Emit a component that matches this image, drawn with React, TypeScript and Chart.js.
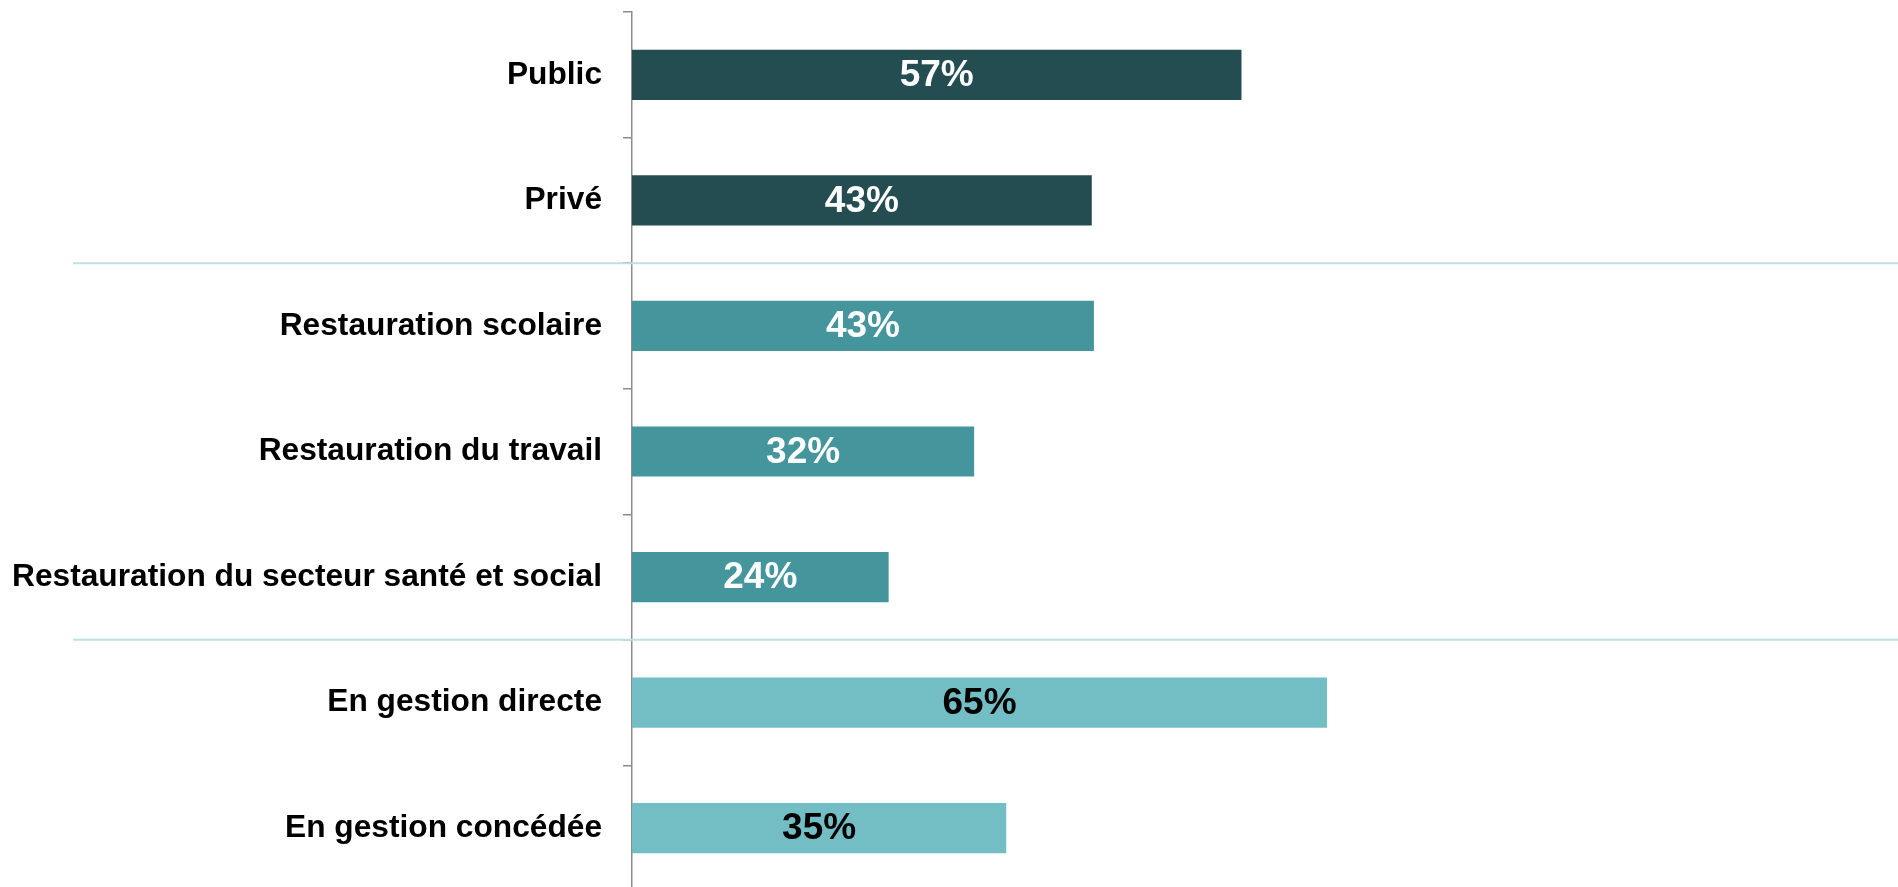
import React, { useEffect, useRef } from "react";
import { Chart, registerables } from "chart.js";

Chart.register(...registerables);

const categories = [
  "Public",
  "Privé",
  "Restauration scolaire",
  "Restauration du travail",
  "Restauration du secteur santé et social",
  "En gestion directe",
  "En gestion concédée",
];
const values = [57, 43, 43.2, 32, 24, 65, 35];
const valueLabels = ["57%", "43%", "43%", "32%", "24%", "65%", "35%"];
const barColors = ["#234d51", "#234d51", "#45969c", "#45969c", "#45969c", "#72bec4", "#72bec4"];
const labelColors = ["#ffffff", "#ffffff", "#ffffff", "#ffffff", "#ffffff", "#000000", "#000000"];
const separatorsAfter = [1, 4];

const FONT = "'Liberation Sans', Arial, sans-serif";

const labelPlugin = {
  id: "barLabels",
  afterDatasetsDraw(chart: any) {
    const ctx = chart.ctx;
    const meta = chart.getDatasetMeta(0);
    ctx.save();
    ctx.font = `bold 37px ${FONT}`;
    ctx.textAlign = "center";
    ctx.textBaseline = "middle";
    meta.data.forEach((bar: any, i: number) => {
      const cx = (bar.x + bar.base) / 2;
      ctx.fillStyle = labelColors[i];
      ctx.fillText(valueLabels[i], cx, bar.y + 1);
    });
    ctx.restore();
  },
};

const separatorPlugin = {
  id: "separators",
  afterDraw(chart: any) {
    const ctx = chart.ctx;
    const y = chart.scales.y;
    ctx.save();
    ctx.strokeStyle = "#bde0e5";
    ctx.lineWidth = 2;
    separatorsAfter.forEach((idx) => {
      const py = (y.getPixelForValue(idx) + y.getPixelForValue(idx + 1)) / 2;
      ctx.beginPath();
      ctx.moveTo(73, py);
      ctx.lineTo(chart.width, py);
      ctx.stroke();
    });
    ctx.restore();
  },
};

export default function App() {
  const ref = useRef<HTMLCanvasElement | null>(null);

  useEffect(() => {
    document.body.style.margin = "0";
    document.body.style.overflow = "hidden";
    const chart = new Chart(ref.current as HTMLCanvasElement, {
      type: "bar",
      data: {
        labels: categories,
        datasets: [
          {
            data: values,
            backgroundColor: barColors,
            borderWidth: 0,
            barPercentage: 0.4,
            categoryPercentage: 1,
          },
        ],
      },
      options: {
        indexAxis: "y",
        animation: false,
        responsive: false,
        maintainAspectRatio: false,
        layout: { padding: { top: 12, right: 0, bottom: 0, left: 0 } },
        plugins: {
          legend: { display: false },
          tooltip: { enabled: false },
          title: { display: false },
        },
        scales: {
          x: {
            display: false,
            min: 0,
            max: 118.4,
          },
          y: {
            offset: true,
            afterFit(scale: any) {
              scale.width = 632;
              scale.paddingTop = 0;
              scale.paddingBottom = 0;
            },
            border: { display: true, color: "#8c8c8c", width: 1.5 },
            grid: {
              display: true,
              offset: true,
              drawOnChartArea: false,
              drawTicks: true,
              tickLength: 9,
              color: "#8c8c8c",
              lineWidth: 1.5,
            },
            ticks: {
              color: "#000000",
              padding: 21,
              font: { family: FONT, size: 31.7, weight: "bold" },
              autoSkip: false,
            },
          },
        },
      } as any,
      plugins: [labelPlugin, separatorPlugin],
    });
    return () => chart.destroy();
  }, []);

  return (
    <div style={{ width: 1898, height: 887, overflow: "hidden", position: "relative", background: "#fff" }}>
      <canvas ref={ref} width={1898} height={891} style={{ display: "block" }} />
    </div>
  );
}
